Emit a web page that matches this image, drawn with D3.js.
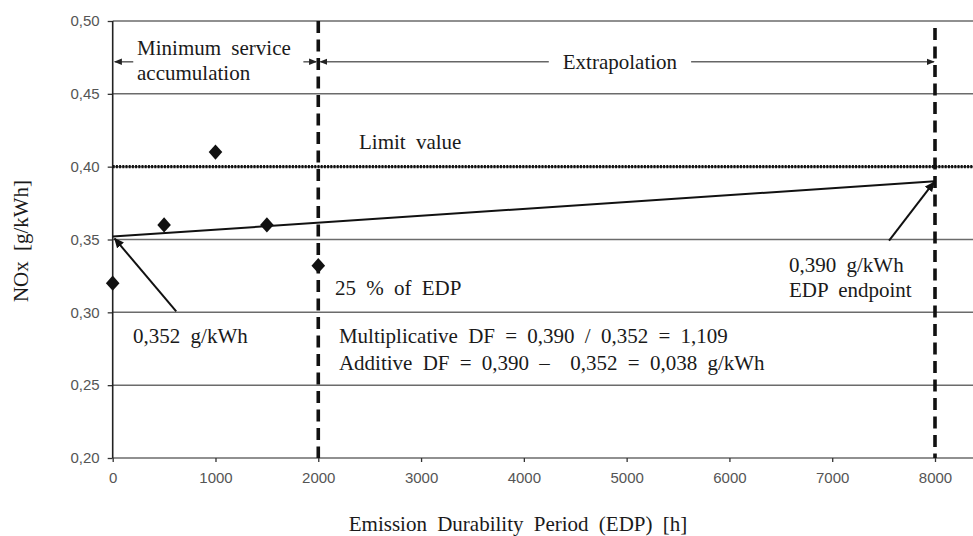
<!DOCTYPE html>
<html>
<head>
<meta charset="utf-8">
<script src="https://cdn.jsdelivr.net/npm/d3@7/dist/d3.min.js"></script>
<style>
  html, body { margin: 0; padding: 0; background: #fff; }
  svg { display: block; }
  .serif { font-family: "Liberation Serif", "Times New Roman", serif; fill: #1a1a1a; word-spacing: 5px; white-space: pre; }
  .tick text { font-family: "Liberation Sans", Arial, sans-serif; font-size: 15px; fill: #555; }
</style>
</head>
<body>
<svg id="chart" width="973" height="536"></svg>
<script>
// Measured NOx emissions over the service accumulation period
const hours = [0, 500, 1000, 1500, 2000];
const noxValues = [0.320, 0.360, 0.410, 0.360, 0.332];

// Fitted deterioration line: start value and extrapolated EDP endpoint
const fitHours = [0, 8000];
const fitValues = [0.352, 0.390];

const limitValue = 0.40;
const edpMarkers = [2000, 8000];

const xTicks = [0, 1000, 2000, 3000, 4000, 5000, 6000, 7000, 8000];
const yTicks = [0.20, 0.25, 0.30, 0.35, 0.40, 0.45, 0.50];

const W = 973, H = 536;
const FS = 21;
const svg = d3.select("#chart");

const x = d3.scaleLinear().domain([0, 8000]).range([112.7, 935]);
const y = d3.scaleLinear().domain([0.20, 0.50]).range([458, 21]);
const xRight = W; // gridlines run to the page edge

// Horizontal gridlines
svg.append("g")
  .selectAll("line")
  .data(yTicks)
  .join("line")
  .attr("x1", x(0)).attr("x2", xRight)
  .attr("y1", d => y(d)).attr("y2", d => y(d))
  .attr("stroke", "#6b6b6b").attr("stroke-width", 1.5);

// Axes
const yAxis = d3.axisLeft(y).tickValues(yTicks).tickSize(5).tickPadding(8)
  .tickFormat(d => d.toFixed(2).replace(".", ","));
const gy = svg.append("g").attr("transform", `translate(${x(0)},0)`).call(yAxis);
gy.select(".domain").remove();
gy.selectAll(".tick line").attr("stroke", "#333").attr("stroke-width", 1.3);

const xAxis = d3.axisBottom(x).tickValues(xTicks).tickSize(4).tickPadding(10)
  .tickFormat(d3.format("d"));
const gx = svg.append("g").attr("transform", `translate(0,${y(0.20)})`).call(xAxis);
gx.select(".domain").remove();
gx.selectAll(".tick line").attr("stroke", "#333").attr("stroke-width", 1.3);

// Left axis line
svg.append("line")
  .attr("x1", x(0)).attr("x2", x(0))
  .attr("y1", y(0.50)).attr("y2", y(0.20))
  .attr("stroke", "#222").attr("stroke-width", 1.6);

// Limit value (dotted)
svg.append("line")
  .attr("x1", x(0)).attr("x2", xRight)
  .attr("y1", y(limitValue)).attr("y2", y(limitValue))
  .attr("stroke", "#111").attr("stroke-width", 3.2)
  .attr("stroke-dasharray", "2,1.2");

// Dashed markers at 25 % of EDP and EDP endpoint
svg.append("g")
  .selectAll("line")
  .data(edpMarkers)
  .join("line")
  .attr("x1", d => x(d)).attr("x2", d => x(d))
  .attr("y1", (d, i) => i === 0 ? y(0.50) : y(0.4952))
  .attr("y2", y(0.20))
  .attr("stroke", "#111").attr("stroke-width", 3.6)
  .attr("stroke-dasharray", "12,6.5");

// Deterioration line
svg.append("line")
  .attr("x1", x(fitHours[0])).attr("y1", y(fitValues[0]))
  .attr("x2", x(fitHours[1])).attr("y2", y(fitValues[1]))
  .attr("stroke", "#111").attr("stroke-width", 2);

// Data points as diamonds
const diamond = {
  draw(ctx, size) {
    const w = 6.8, h = 7.6;
    ctx.moveTo(0, -h); ctx.lineTo(w, 0); ctx.lineTo(0, h); ctx.lineTo(-w, 0); ctx.closePath();
  }
};
svg.append("g")
  .selectAll("path")
  .data(hours.map((h, i) => [h, noxValues[i]]))
  .join("path")
  .attr("transform", d => `translate(${x(d[0])},${y(d[1])})`)
  .attr("d", d3.symbol().type(diamond).size(1))
  .attr("fill", "#111");

// Arrow markers
const defs = svg.append("defs");
defs.append("marker")
  .attr("id", "headBlack").attr("viewBox", "0 -5 10 10")
  .attr("refX", 9).attr("refY", 0)
  .attr("markerWidth", 5).attr("markerHeight", 5)
  .attr("markerUnits", "strokeWidth")
  .attr("orient", "auto")
  .append("path").attr("d", "M0,-4.5L10,0L0,4.5Z").attr("fill", "#111");
defs.append("marker")
  .attr("id", "headGrey").attr("viewBox", "0 -5 10 10")
  .attr("refX", 9).attr("refY", 0)
  .attr("markerWidth", 5).attr("markerHeight", 5)
  .attr("markerUnits", "strokeWidth")
  .attr("orient", "auto")
  .append("path").attr("d", "M0,-4L10,0L0,4Z").attr("fill", "#222");

function arrow(x1, y1, x2, y2, grey) {
  svg.append("line")
    .attr("x1", x1).attr("y1", y1).attr("x2", x2).attr("y2", y2)
    .attr("stroke", grey ? "#666" : "#111")
    .attr("stroke-width", grey ? 1.6 : 2)
    .attr("marker-end", `url(#${grey ? "headGrey" : "headBlack"})`);
}

function label(txt, px, py, anchor, size) {
  return svg.append("text")
    .attr("class", "serif")
    .attr("x", px).attr("y", py)
    .attr("text-anchor", anchor || "start")
    .attr("font-size", size || FS)
    .text(txt);
}

// Range annotations along the top
const rangeY = y(0.472);
label("Minimum service", x(237), y(0.4767));
label("accumulation", x(237), y(0.4595));
arrow(x(200), rangeY, x(0) + 2, rangeY, true);
arrow(x(1855), rangeY, x(2000) - 2, rangeY, true);

const ext = label("Extrapolation", x(4935), rangeY, "middle");
ext.attr("dy", "0.33em");
const extW = ext.node().getComputedTextLength();
arrow(x(4935) - extW / 2 - 14, rangeY, x(2000) + 2, rangeY, true);
arrow(x(4935) + extW / 2 + 14, rangeY, x(8000) - 1, rangeY, true);

// Text annotations
label("Limit value", x(2396), y(0.4121));
label("25 % of EDP", x(2163), y(0.3119));
label("0,390 g/kWh", x(6580), y(0.3277));
label("EDP endpoint", x(6580), y(0.3105));
label("0,352 g/kWh", x(198), y(0.2790));
label("Multiplicative DF = 0,390 / 0,352 = 1,109", x(2201), y(0.2790));
label("Additive DF = 0,390 \u2013  0,352 = 0,038 g/kWh", x(2201), y(0.2604));

// Pointer arrows to the start and end values
arrow(x(618), y(0.3006), x(fitHours[0]) + 2, y(fitValues[0]) + 2);
arrow(x(7553), y(0.3492), x(fitHours[1]) - 1, y(fitValues[1]) + 1);

// Axis titles
svg.append("text")
  .attr("class", "serif")
  .attr("font-size", FS)
  .attr("text-anchor", "middle")
  .attr("transform", `translate(28,241) rotate(-90)`)
  .text("NOx [g/kWh]");
svg.append("text")
  .attr("class", "serif")
  .attr("font-size", FS)
  .attr("text-anchor", "middle")
  .attr("x", 518).attr("y", 531)
  .text("Emission Durability Period (EDP) [h]");
</script>
</body>
</html>
